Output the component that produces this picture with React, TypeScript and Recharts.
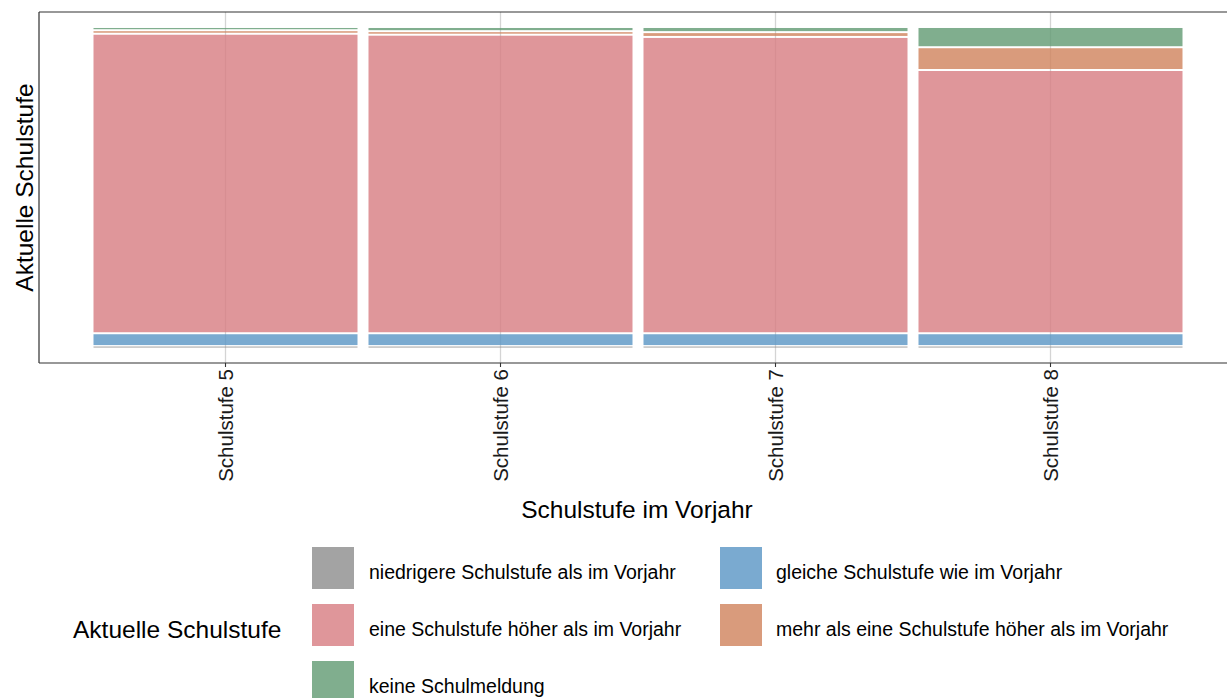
import React from 'react';
import { BarChart, Bar, XAxis, YAxis, CartesianGrid, Legend, ReferenceLine } from 'recharts';

const categories = ['Schulstufe 5', 'Schulstufe 6', 'Schulstufe 7', 'Schulstufe 8'];
const niedrigere = [0.6, 0.6, 0.6, 0.6];
const gleiche = [4.0, 4.0, 4.0, 4.0];
const eineHoeher = [93.3, 93.0, 92.3, 82.0];
const mehrAlsEine = [1.1, 1.1, 1.5, 7.1];
const keineMeldung = [1.0, 1.3, 1.6, 6.3];

const seriesKeys = ['niedrigere', 'gleiche', 'eine', 'mehr', 'keine'];
const seriesLabels = [
  'niedrigere Schulstufe als im Vorjahr',
  'gleiche Schulstufe wie im Vorjahr',
  'eine Schulstufe höher als im Vorjahr',
  'mehr als eine Schulstufe höher als im Vorjahr',
  'keine Schulmeldung',
];
const seriesColors = ['#8c8c8c', '#5995c4', '#d77c81', '#d0825b', '#609a72'];
const legendOrder = [0, 1, 2, 3, 4];

const xTitle = 'Schulstufe im Vorjahr';
const yTitle = 'Aktuelle Schulstufe';
const legendTitle = 'Aktuelle Schulstufe';

const Y_MIN = -4.67;
const Y_MAX = 104.67;

const data = categories.map((name, i) => ({
  name,
  niedrigere: niedrigere[i],
  gleiche: gleiche[i],
  eine: eineHoeher[i],
  mehr: mehrAlsEine[i],
  keine: keineMeldung[i],
}));

const FONT = '"Liberation Sans", Arial, Helvetica, sans-serif';
const ALPHA = 0.8;

const GapRect = (props: any) => {
  const { x, y, width, height, color } = props;
  if (!height || height <= 0 || !width) return null;
  const inset = Math.min(1, Math.max(0, (height - 1) / 2));
  return (
    <rect
      x={x}
      y={y + inset}
      width={width}
      height={Math.max(0, height - 2 * inset)}
      fill={color}
      fillOpacity={ALPHA}
    />
  );
};

const RotTick = (props: any) => {
  const { x, y, payload } = props;
  return (
    <text
      x={x}
      y={y}
      transform={`rotate(-90, ${x}, ${y})`}
      textAnchor="end"
      dominantBaseline="central"
      fontSize={20.5}
      fill="#1a1a1a"
      fontFamily={FONT}
    >
      {payload.value}
    </text>
  );
};

const YLabel = (props: any) => {
  const vb = props.viewBox || { x: 0, y: 0, width: 39, height: 351 };
  const cx = vb.x + 33;
  const cy = vb.y + vb.height / 2;
  return (
    <text
      x={cx}
      y={cy}
      transform={`rotate(-90, ${cx}, ${cy})`}
      textAnchor="middle"
      fontSize={24.5}
      fill="#000"
      fontFamily={FONT}
    >
      {yTitle}
    </text>
  );
};

const XLabel = (props: any) => {
  const vb = props.viewBox || { x: 39, y: 363, width: 1196, height: 165 };
  return (
    <text
      x={vb.x + vb.width / 2}
      y={vb.y + 155}
      textAnchor="middle"
      fontSize={24.5}
      fill="#000"
      fontFamily={FONT}
    >
      {xTitle}
    </text>
  );
};

const LegendContent = () => {
  const keyTops = [19, 76, 133];
  const colKey = [312, 720];
  const colText = [369, 776];
  return (
    <div style={{ position: 'relative', width: 1227, height: 170, fontFamily: FONT }}>
      <div
        style={{
          position: 'absolute',
          left: 73,
          top: 90,
          fontSize: 24.5,
          lineHeight: '24.5px',
          color: '#000',
          whiteSpace: 'nowrap',
        }}
      >
        {legendTitle}
      </div>
      {legendOrder.map((si, idx) => {
        const row = Math.floor(idx / 2);
        const col = idx % 2;
        return (
          <React.Fragment key={seriesKeys[si]}>
            <div
              style={{
                position: 'absolute',
                left: colKey[col],
                top: keyTops[row],
                width: 42,
                height: 42,
                background: seriesColors[si],
                opacity: ALPHA,
              }}
            />
            <div
              style={{
                position: 'absolute',
                left: colText[col],
                top: keyTops[row] + 15.5,
                fontSize: 19.5,
                lineHeight: '19.5px',
                color: '#000',
                whiteSpace: 'nowrap',
              }}
            >
              {seriesLabels[si]}
            </div>
          </React.Fragment>
        );
      })}
    </div>
  );
};

export default function App() {
  return (
    <div
      style={{
        position: 'absolute',
        left: 0,
        top: 0,
        width: 1227,
        height: 698,
        overflow: 'hidden',
        background: '#fff',
        fontFamily: FONT,
      }}
    >
      <BarChart
        width={1240}
        height={698}
        data={data}
        margin={{ top: 12, right: 5, bottom: 0, left: 0 }}
        barCategoryGap={5.5}
      >
        <CartesianGrid horizontal={false} vertical stroke="#d4d4d4" strokeWidth={1.3} />
        <XAxis
          dataKey="name"
          type="category"
          height={165}
          padding={{ left: 49, right: 47 }}
          axisLine={{ stroke: '#333', strokeWidth: 1.1 }}
          tickLine={{ stroke: '#333', strokeWidth: 1.1 }}
          tickSize={4}
          tickMargin={2}
          tick={<RotTick />}
          interval={0}
          label={<XLabel />}
        />
        <YAxis
          type="number"
          width={39}
          domain={[Y_MIN, Y_MAX]}
          allowDataOverflow
          tick={false}
          tickLine={false}
          axisLine={{ stroke: '#333', strokeWidth: 1.1 }}
          label={<YLabel />}
        />
        <ReferenceLine y={Y_MAX} stroke="#333" strokeWidth={1.1} ifOverflow="extendDomain" />
        <Legend
          verticalAlign="bottom"
          align="left"
          height={170}
          content={<LegendContent />}
          wrapperStyle={{ left: 0, width: 1227, height: 170 }}
        />
        {seriesKeys.map((k, i) => (
          <Bar
            key={k}
            dataKey={k}
            name={seriesLabels[i]}
            stackId="a"
            fill={seriesColors[i]}
            isAnimationActive={false}
            shape={(p: any) => <GapRect {...p} color={seriesColors[i]} />}
          />
        ))}
      </BarChart>
    </div>
  );
}
